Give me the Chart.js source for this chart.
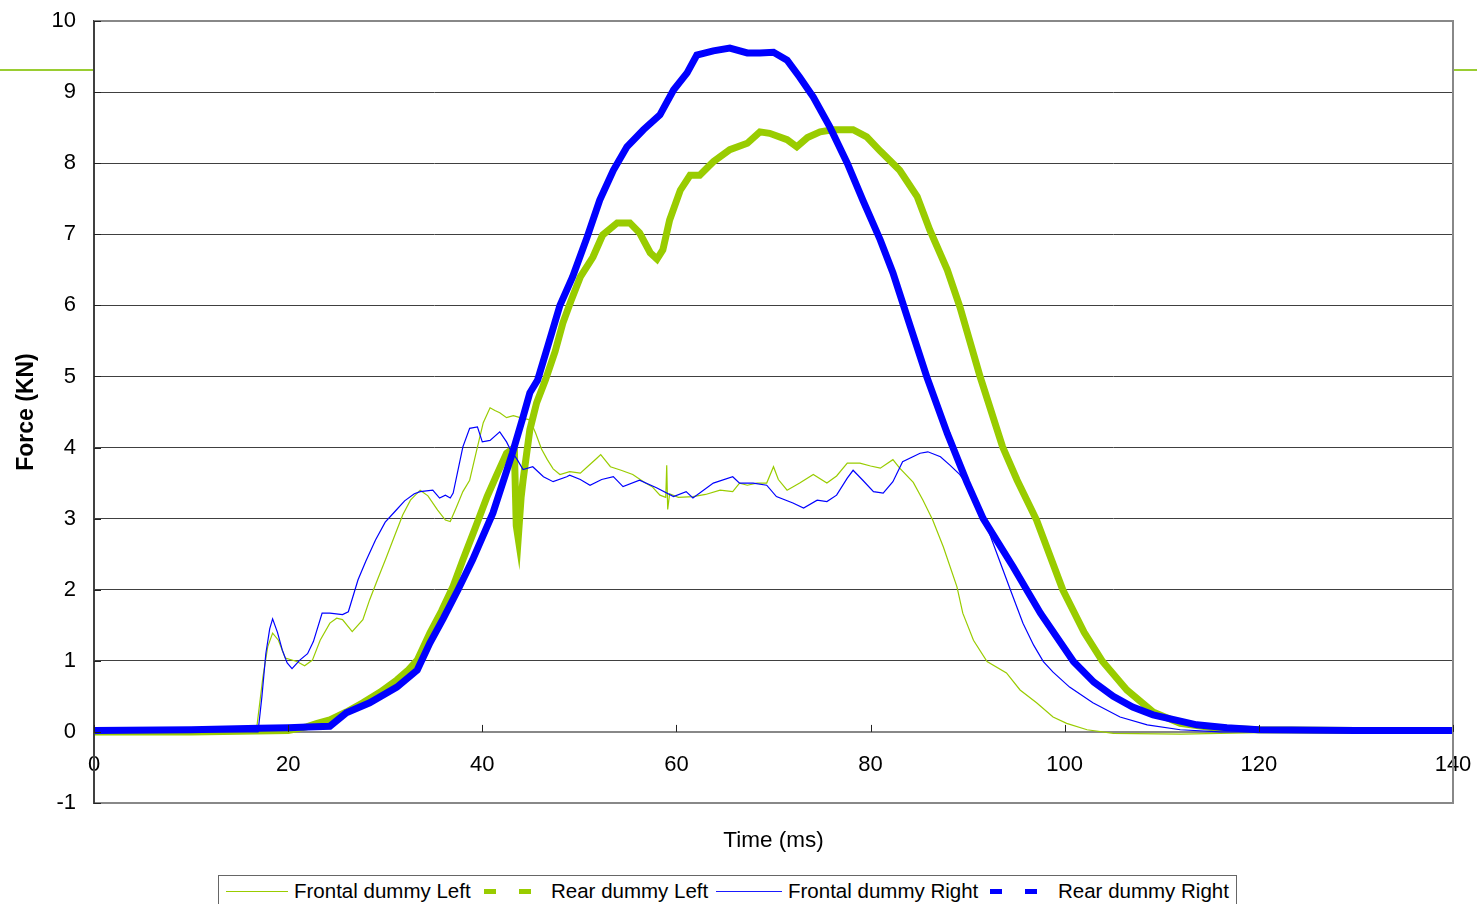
<!DOCTYPE html>
<html>
<head>
<meta charset="utf-8">
<script src="https://cdn.jsdelivr.net/npm/chart.js@4.4.1/dist/chart.umd.min.js"></script>
<style>
  html, body { margin: 0; padding: 0; background: #fff; }
  #wrap { position: relative; width: 1477px; height: 904px; overflow: hidden; font-family: Arial, "Liberation Sans", sans-serif; }
  #legend { position: absolute; left: 218px; top: 875px; width: 1019px; height: 44px; border: 1px solid #666; box-sizing: border-box; background: #fff; }
  .lg { position: absolute; top: 3px; font-size: 20.5px; line-height: 24px; color: #000; white-space: nowrap; }
  .ln { position: absolute; top: 15px; height: 1px; }
  .ds { position: absolute; top: 13px; width: 12px; height: 5px; }
</style>
</head>
<body>
<div id="wrap">
  <canvas id="forceChart" width="1477" height="904"></canvas>
  <div id="legend">
    <span class="ln" style="left:7px;width:62px;background:#99cc00"></span>
    <span class="lg" style="left:75px">Frontal dummy Left</span>
    <span class="ds" style="left:265px;background:#99cc00"></span>
    <span class="ds" style="left:300px;background:#99cc00"></span>
    <span class="lg" style="left:332px">Rear dummy Left</span>
    <span class="ln" style="left:497px;width:66px;background:#1a1aff"></span>
    <span class="lg" style="left:569px">Frontal dummy Right</span>
    <span class="ds" style="left:771px;background:#0000ff"></span>
    <span class="ds" style="left:806px;background:#0000ff"></span>
    <span class="lg" style="left:839px">Rear dummy Right</span>
  </div>
</div>
<script>
// Force vs time (ms, kN)
const frontalLeftT = [0, 16.5, 16.8, 17.4, 17.9, 18.4, 19.0, 19.7, 20.9, 21.7, 22.5, 23.3, 24.3, 25.0, 25.6, 26.6, 27.7, 28.4, 29.2, 30.1, 31.0, 31.8, 32.6, 33.6, 34.4, 35.4, 36.2, 36.7, 37.3, 38.0, 38.7, 39.4, 40.1, 40.8, 41.3, 41.8, 42.5, 43.2, 43.9, 44.9, 45.5, 46.1, 46.7, 47.3, 48.0, 49.0, 50.1, 51.0, 51.8, 52.2, 53.2, 54.3, 55.5, 56.8, 57.5, 58.3, 58.9, 59.0, 59.1, 59.3, 60.2, 61.7, 63.0, 64.5, 65.8, 66.5, 67.3, 68.3, 69.3, 70.0, 70.5, 71.4, 72.7, 74.1, 75.5, 76.5, 77.6, 78.9, 80.0, 81.0, 82.3, 83.0, 84.4, 85.4, 86.4, 87.5, 88.9, 89.5, 90.6, 92.0, 94.0, 95.4, 97.1, 98.8, 100.2, 102.3, 105, 112, 120, 130, 140];
const frontalLeftF = [0, 0, 0.1, 0.77, 1.2, 1.39, 1.29, 1.04, 0.99, 0.93, 1.01, 1.29, 1.53, 1.6, 1.58, 1.41, 1.58, 1.86, 2.14, 2.45, 2.77, 3.05, 3.26, 3.4, 3.32, 3.12, 2.98, 2.96, 3.15, 3.38, 3.54, 3.95, 4.35, 4.56, 4.52, 4.49, 4.42, 4.45, 4.42, 4.39, 4.2, 3.98, 3.83, 3.7, 3.62, 3.66, 3.64, 3.75, 3.85, 3.9, 3.73, 3.68, 3.62, 3.5, 3.45, 3.33, 3.3, 3.75, 3.13, 3.35, 3.3, 3.31, 3.34, 3.4, 3.38, 3.5, 3.47, 3.5, 3.5, 3.73, 3.55, 3.4, 3.5, 3.62, 3.5, 3.6, 3.78, 3.78, 3.74, 3.71, 3.83, 3.71, 3.51, 3.26, 2.98, 2.6, 2.04, 1.67, 1.29, 0.99, 0.83, 0.59, 0.41, 0.21, 0.12, 0.03, -0.02, -0.03, -0.01, 0, 0];

const rearLeftT = [0, 10, 20, 21.9, 23, 24.3, 26, 27.7, 29.5, 31.2, 32.3, 33.3, 34.6, 35.8, 37, 38, 39.3, 40.5, 41.5, 42.5, 43.3, 43.5, 43.7, 44.0, 44.2, 44.9, 45.6, 46.5, 47.5, 48.3, 49.1, 50.1, 51.4, 52.4, 53.9, 55.2, 56.2, 57.3, 58, 58.6, 59.3, 60.4, 61.4, 62.4, 63.8, 65.5, 67.3, 68.6, 69.6, 71.4, 72.4, 73.5, 74.8, 76.1, 78.2, 79.6, 81, 83, 84.8, 86.1, 87.9, 89.2, 91.3, 93.6, 95.1, 97.1, 99.8, 102, 103.9, 106.4, 109.1, 111.9, 115.3, 120, 130, 140];
const rearLeftF = [0, 0, 0.02, 0.07, 0.12, 0.17, 0.28, 0.41, 0.56, 0.73, 0.86, 1.01, 1.39, 1.7, 2.05, 2.42, 2.88, 3.31, 3.62, 3.92, 4.0, 2.9, 2.72, 3.3, 3.54, 4.25, 4.63, 4.95, 5.35, 5.75, 6.05, 6.4, 6.68, 6.99, 7.16, 7.16, 7.02, 6.74, 6.65, 6.78, 7.2, 7.62, 7.83, 7.83, 8.02, 8.19, 8.28, 8.44, 8.42, 8.33, 8.23, 8.36, 8.44, 8.47, 8.47, 8.37, 8.17, 7.9, 7.53, 7.06, 6.5, 5.98, 4.99, 4.01, 3.54, 2.98, 2.0, 1.4, 0.99, 0.59, 0.28, 0.12, 0.06, 0.03, 0.02, 0.02];

const frontalRightT = [0, 16.9, 17.3, 17.7, 18.1, 18.4, 18.9, 19.4, 19.9, 20.4, 21.2, 22.0, 22.6, 23.5, 24.3, 25.6, 26.2, 27.2, 28.0, 29.0, 30.0, 31.0, 32.0, 33.0, 33.6, 34.9, 35.6, 36.2, 36.7, 37.0, 38.0, 38.7, 39.5, 40.0, 40.8, 41.8, 42.5, 42.9, 43.6, 44.2, 45.2, 46.3, 47.3, 48.7, 49.0, 50.1, 51.1, 52.3, 53.5, 54.5, 56.2, 58, 59.7, 61, 61.7, 63.8, 65.8, 66.5, 67.9, 69.3, 70.3, 72, 73.1, 74.5, 75.5, 76.5, 77.6, 78.2, 79.2, 80.3, 81.3, 82.3, 83.3, 85.1, 85.9, 87.2, 88.2, 89.2, 90.2, 91, 92.6, 94.4, 95.7, 96.8, 97.8, 98.8, 100.5, 102.9, 105.7, 108.5, 111.9, 116, 140];
const frontalRightF = [0, 0, 0.5, 1.1, 1.45, 1.59, 1.4, 1.15, 0.97, 0.89, 1.01, 1.1, 1.27, 1.67, 1.67, 1.65, 1.69, 2.14, 2.4, 2.7, 2.95, 3.1, 3.25, 3.35, 3.38, 3.4, 3.29, 3.33, 3.29, 3.36, 4.01, 4.27, 4.29, 4.08, 4.1, 4.22, 4.08, 3.97, 3.83, 3.69, 3.73, 3.59, 3.52, 3.59, 3.61, 3.55, 3.47, 3.55, 3.59, 3.45, 3.54, 3.43, 3.31, 3.38, 3.29, 3.5, 3.59, 3.5, 3.5, 3.47, 3.31, 3.22, 3.15, 3.26, 3.24, 3.33, 3.57, 3.68, 3.54, 3.38, 3.36, 3.52, 3.8, 3.92, 3.94, 3.87, 3.75, 3.62, 3.42, 3.25, 2.66, 2.0, 1.53, 1.22, 0.99, 0.84, 0.63, 0.41, 0.21, 0.1, 0.03, 0, 0];

const rearRightT = [0, 10, 17, 20, 22, 24.3, 26, 28.4, 31.2, 33.3, 34.6, 36, 37.5, 39, 41.1, 43.1, 44.2, 44.9, 45.7, 46.8, 48.0, 49.3, 50.8, 52.1, 53.5, 54.9, 56.6, 58.3, 59.7, 61.1, 62.1, 63.8, 65.5, 67.3, 68.6, 70, 71.4, 72.7, 74.1, 75.8, 77.6, 79.2, 81, 82.3, 84.1, 85.8, 87.9, 89.9, 91.6, 94.7, 97.5, 100.9, 103, 105, 107, 109.1, 113.6, 116.7, 120, 130, 140];
const rearRightF = [0.02, 0.03, 0.05, 0.06, 0.07, 0.08, 0.27, 0.41, 0.63, 0.87, 1.25, 1.6, 2.0, 2.42, 3.08, 3.92, 4.43, 4.77, 4.95, 5.45, 6.0, 6.4, 6.96, 7.48, 7.9, 8.23, 8.47, 8.68, 9.03, 9.27, 9.52, 9.58, 9.62, 9.55, 9.55, 9.56, 9.45, 9.21, 8.93, 8.51, 8.0, 7.48, 6.92, 6.46, 5.7, 4.99, 4.2, 3.52, 3.0, 2.32, 1.67, 0.99, 0.7, 0.5, 0.35, 0.24, 0.1, 0.06, 0.03, 0.02, 0.02];

const GREEN = "#99cc00";
const BLUE = "#0000ff";
const FONT = "Arial, 'Liberation Sans', sans-serif";

const toPoints = (ts, fs) => ts.map((t, i) => ({ x: t, y: fs[i] }));

// frame, slide rule, inside tick marks and x title
const decor = {
	id: "decor",
	beforeDraw(chart) {
		const { ctx, chartArea: a } = chart;
		ctx.save();
		ctx.strokeStyle = "#9acd32";
		ctx.lineWidth = 2;
		ctx.beginPath();
		ctx.moveTo(0, 70);
		ctx.lineTo(chart.width, 70);
		ctx.stroke();
		ctx.fillStyle = "#fff";
		ctx.fillRect(a.left, a.top, a.right - a.left, a.bottom - a.top);
		ctx.restore();
	},
	afterDraw(chart) {
		const { ctx, chartArea: a, scales } = chart;
		ctx.save();
		ctx.strokeStyle = "#888";
		ctx.lineWidth = 2;
		ctx.beginPath();
		ctx.moveTo(a.left, a.top);
		ctx.lineTo(a.right, a.top);
		ctx.lineTo(a.right, a.bottom);
		ctx.lineTo(a.left, a.bottom);
		ctx.stroke();
		ctx.strokeStyle = "#404040";
		ctx.beginPath();
		ctx.moveTo(a.left, a.top);
		ctx.lineTo(a.left, a.bottom);
		ctx.stroke();

		ctx.lineWidth = 1;
		ctx.strokeStyle = "#222";
		const y0 = scales.y.getPixelForValue(0);
		scales.x.ticks.forEach((t) => {
			const px = Math.round(scales.x.getPixelForValue(t.value)) + 0.5;
			ctx.beginPath();
			ctx.moveTo(px, y0 - 7);
			ctx.lineTo(px, y0);
			ctx.stroke();
		});
		scales.y.ticks.forEach((t) => {
			const py = Math.round(scales.y.getPixelForValue(t.value)) + 0.5;
			ctx.beginPath();
			ctx.moveTo(a.left, py);
			ctx.lineTo(a.left + 7, py);
			ctx.stroke();
		});

		ctx.fillStyle = "#000";
		ctx.font = `22.5px ${FONT}`;
		ctx.textAlign = "center";
		ctx.textBaseline = "middle";
		ctx.fillText("Time (ms)", (a.left + a.right) / 2, 841);
		ctx.restore();
	},
};

new Chart(document.getElementById("forceChart"), {
	type: "line",
	data: {
		datasets: [
			{
				label: "Frontal dummy Left",
				data: toPoints(frontalLeftT, frontalLeftF),
				borderColor: GREEN,
				borderWidth: 1.2,
				order: 3,
			},
			{
				label: "Rear dummy Left",
				data: toPoints(rearLeftT, rearLeftF),
				borderColor: GREEN,
				borderWidth: 7,
				order: 2,
			},
			{
				label: "Frontal dummy Right",
				data: toPoints(frontalRightT, frontalRightF),
				borderColor: BLUE,
				borderWidth: 1.2,
				order: 1,
			},
			{
				label: "Rear dummy Right",
				data: toPoints(rearRightT, rearRightF),
				borderColor: BLUE,
				borderWidth: 7,
				order: 0,
			},
		],
	},
	options: {
		responsive: false,
		animation: false,
		devicePixelRatio: 1,
		elements: {
			point: { radius: 0 },
			line: { tension: 0, fill: false },
		},
		layout: { padding: { left: 0, top: 21, right: 24, bottom: 101 } },
		scales: {
			x: {
				type: "linear",
				position: { y: 0 },
				min: 0,
				max: 140,
				afterFit: (scale) => {
					scale.paddingLeft = 0;
					scale.paddingRight = 0;
				},
				ticks: {
					stepSize: 20,
					padding: 20,
					color: "#000",
					font: { family: FONT, size: 22 },
				},
				grid: { display: false, drawTicks: false },
				border: { display: true, color: "#888", width: 2 },
			},
			y: {
				min: -1,
				max: 10,
				afterFit: (scale) => {
					scale.width = 94;
					scale.paddingTop = 0;
					scale.paddingBottom = 0;
				},
				ticks: {
					stepSize: 1,
					padding: 18,
					color: "#000",
					font: { family: FONT, size: 22 },
				},
				grid: {
					drawTicks: false,
					color: (c) => (c.tick && c.tick.value === 0 ? "#888" : "#404040"),
					lineWidth: (c) => (c.tick && c.tick.value === 0 ? 2 : 1),
				},
				border: { display: true, color: "#404040", width: 2 },
				title: {
					display: true,
					text: "Force (KN)",
					color: "#000",
					font: { family: FONT, size: 23, weight: "bold" },
					padding: { top: 13, bottom: 0 },
				},
			},
		},
		plugins: {
			legend: { display: false },
			tooltip: { enabled: false },
		},
	},
	plugins: [decor],
});
</script>
</body>
</html>
